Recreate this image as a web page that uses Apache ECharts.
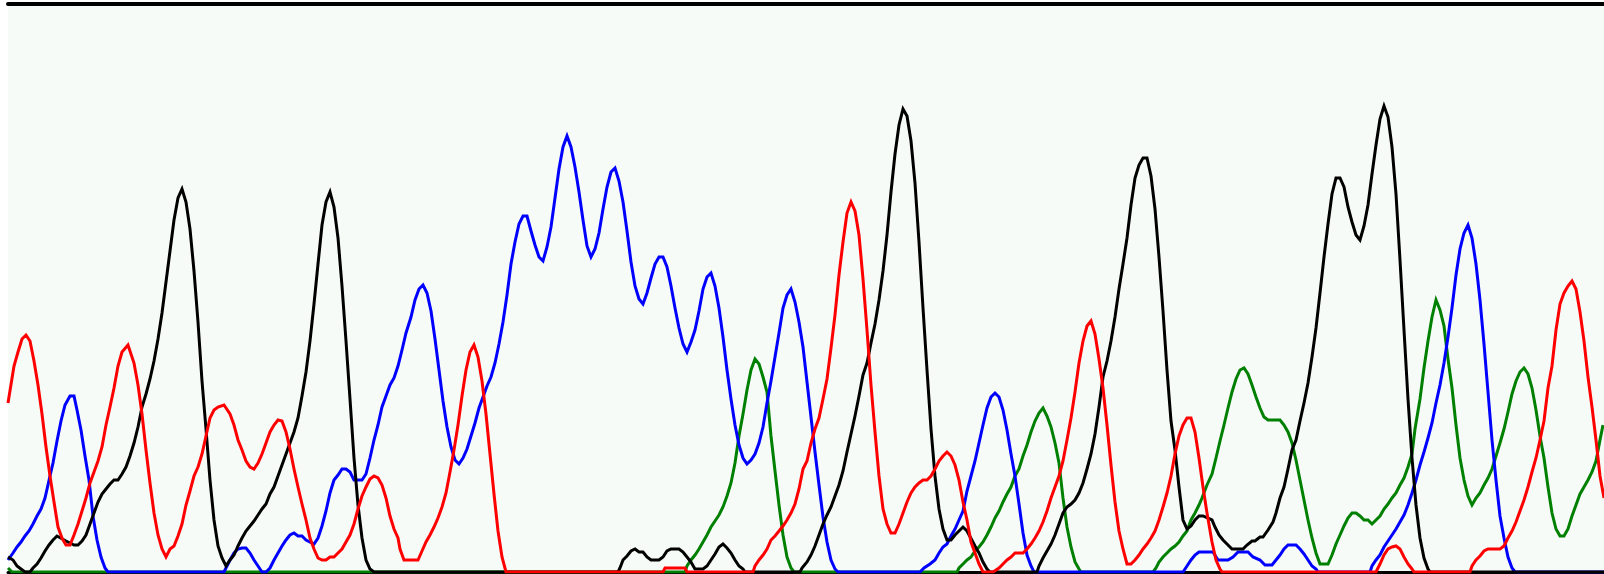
<!DOCTYPE html>
<html>
<head>
<meta charset="utf-8">
<style>
html,body{margin:0;padding:0;background:#ffffff;}
#chart{width:1604px;height:574px;}
</style>
<script src="https://cdn.jsdelivr.net/npm/echarts@6/dist/echarts.min.js"></script>
</head>
<body>
<div id="chart"></div>
<script>
// Chromatogram traces: [scan position, signal intensity]
const traceRed = [[0,169],[6,206],[10,220],[14,233],[18,237],[22,231],[26,211],[30,187],[34,158],[38,125],[42,96],[46,70],[50,45],[54,34],[58,27],[62,27],[66,37],[70,48],[74,61],[78,74],[82,89],[86,100],[90,111],[94,125],[98,147],[102,165],[106,184],[110,206],[114,220],[120,227],[126,209],[130,187],[134,158],[138,122],[142,89],[146,59],[150,37],[154,23],[158,15],[162,23],[166,26],[170,36],[174,48],[178,67],[182,81],[186,96],[190,105],[194,118],[198,136],[202,154],[206,162],[210,165],[216,167],[222,158],[226,147],[230,132],[234,122],[238,111],[242,105],[246,103],[250,109],[254,118],[258,129],[262,140],[266,147],[270,152],[274,151],[278,140],[282,123],[286,103],[290,85],[294,68],[298,52],[302,34],[306,23],[310,14],[314,12],[318,12],[322,15],[326,15],[330,19],[334,23],[338,30],[342,37],[346,48],[350,63],[354,76],[358,85],[362,93],[366,96],[370,94],[374,87],[378,74],[382,56],[386,43],[390,34],[392,23],[396,12],[410,12],[414,21],[418,30],[422,37],[426,45],[430,54],[434,65],[438,79],[442,100],[446,122],[450,147],[454,176],[458,202],[462,220],[466,227],[470,215],[474,191],[478,158],[482,118],[486,78],[490,41],[494,15],[498,0],[655,0],[657,4],[677,4],[679,0],[745,0],[747,6],[751,12],[755,17],[759,23],[763,32],[767,36],[771,41],[775,46],[779,52],[783,59],[787,68],[791,83],[795,103],[799,111],[803,129],[807,143],[811,154],[815,173],[819,193],[823,224],[827,257],[831,297],[835,330],[839,359],[843,370],[847,361],[851,337],[855,293],[859,242],[863,187],[867,140],[871,96],[875,63],[879,48],[883,39],[887,39],[891,48],[895,59],[899,70],[903,79],[907,85],[911,89],[915,92],[919,92],[923,96],[927,103],[931,111],[935,116],[939,120],[943,116],[947,107],[951,92],[955,70],[959,52],[963,30],[967,19],[971,8],[975,0],[985,0],[991,4],[995,8],[999,12],[1003,15],[1007,19],[1015,19],[1019,23],[1023,28],[1027,34],[1031,41],[1035,50],[1039,61],[1043,74],[1047,85],[1051,96],[1055,111],[1059,132],[1063,154],[1067,180],[1071,209],[1075,231],[1079,246],[1083,251],[1087,238],[1091,213],[1095,184],[1099,147],[1103,107],[1107,70],[1111,41],[1115,23],[1119,8],[1123,8],[1127,12],[1131,17],[1135,23],[1139,28],[1143,34],[1147,41],[1151,52],[1155,65],[1159,79],[1163,96],[1167,118],[1171,136],[1175,147],[1179,154],[1183,154],[1187,140],[1191,114],[1195,85],[1199,59],[1204,30],[1208,12],[1212,3],[1214,0],[1368,0],[1372,8],[1376,17],[1380,23],[1384,25],[1388,26],[1392,23],[1396,15],[1400,8],[1404,3],[1406,0],[1462,0],[1464,6],[1468,12],[1472,16],[1476,21],[1480,23],[1492,23],[1496,26],[1500,34],[1504,41],[1508,50],[1512,61],[1516,72],[1520,85],[1524,100],[1528,114],[1532,132],[1536,151],[1540,184],[1544,206],[1548,242],[1552,268],[1556,279],[1560,286],[1564,291],[1568,283],[1572,260],[1576,231],[1580,195],[1584,165],[1588,132],[1592,96],[1596,74]];

const traceBlack = [[0,15],[5,12],[9,6],[13,3],[17,0],[22,0],[25,4],[29,8],[33,14],[37,21],[41,27],[45,32],[49,36],[58,31],[66,27],[70,27],[74,31],[78,37],[82,48],[86,59],[90,70],[94,78],[98,83],[102,88],[106,92],[110,92],[114,98],[118,105],[122,116],[126,129],[130,145],[134,165],[138,178],[142,193],[146,211],[150,233],[154,259],[158,290],[162,321],[166,352],[170,374],[174,383],[178,370],[182,343],[186,301],[190,250],[194,191],[198,143],[202,92],[206,52],[210,26],[214,14],[218,6],[222,12],[226,17],[230,26],[234,34],[238,41],[242,46],[246,51],[250,57],[254,63],[258,68],[262,78],[266,85],[270,96],[274,107],[278,118],[282,129],[286,140],[290,154],[294,176],[298,200],[302,231],[306,268],[310,308],[314,347],[318,370],[322,380],[326,365],[330,334],[334,286],[338,231],[342,173],[346,114],[350,67],[354,34],[358,12],[362,3],[366,0],[610,0],[612,4],[615,12],[619,16],[623,21],[627,23],[631,20],[635,20],[639,15],[643,12],[651,12],[655,15],[659,21],[663,23],[671,23],[675,20],[679,15],[683,10],[687,3],[695,3],[699,6],[703,12],[707,18],[711,25],[715,28],[719,24],[723,19],[727,12],[731,6],[735,3],[737,0],[792,0],[794,4],[799,10],[803,17],[807,26],[811,37],[815,48],[819,57],[823,65],[827,76],[831,87],[835,101],[839,120],[843,138],[847,156],[851,176],[855,197],[859,209],[863,229],[867,248],[871,272],[875,301],[879,337],[883,380],[887,418],[891,447],[895,463],[899,456],[903,431],[907,389],[911,330],[915,264],[919,202],[923,143],[927,96],[931,63],[935,43],[939,32],[943,32],[947,37],[951,41],[955,45],[959,41],[967,26],[971,19],[975,10],[979,3],[982,0],[1029,0],[1031,6],[1035,14],[1039,21],[1043,28],[1047,37],[1051,48],[1055,59],[1059,65],[1063,68],[1067,72],[1071,79],[1075,89],[1079,103],[1083,118],[1087,138],[1091,165],[1095,195],[1099,211],[1103,231],[1107,255],[1111,283],[1115,308],[1119,334],[1123,367],[1127,394],[1131,407],[1135,414],[1139,414],[1143,396],[1147,363],[1151,315],[1155,261],[1159,202],[1163,151],[1167,122],[1171,85],[1175,52],[1179,43],[1183,46],[1187,52],[1191,56],[1195,56],[1204,52],[1207,45],[1211,37],[1215,32],[1219,28],[1224,23],[1235,23],[1239,27],[1244,31],[1247,31],[1252,35],[1255,35],[1260,42],[1265,50],[1268,59],[1272,74],[1276,85],[1280,103],[1284,122],[1288,132],[1292,151],[1296,169],[1300,189],[1304,215],[1308,244],[1312,279],[1316,315],[1320,348],[1324,378],[1328,394],[1332,394],[1336,385],[1340,365],[1344,350],[1348,337],[1352,332],[1356,346],[1360,367],[1364,398],[1368,427],[1372,453],[1376,466],[1380,455],[1384,425],[1388,378],[1392,312],[1396,242],[1400,173],[1404,114],[1408,67],[1412,34],[1416,14],[1420,3],[1422,0],[1596,0]];

const traceBlue = [[0,12],[5,19],[9,25],[13,30],[17,36],[21,41],[25,48],[29,56],[33,63],[37,74],[42,96],[45,109],[49,131],[53,151],[57,167],[62,176],[66,176],[69,162],[73,142],[77,116],[81,92],[85,56],[89,32],[93,15],[97,4],[100,0],[216,0],[218,4],[222,12],[226,19],[230,23],[234,24],[238,24],[242,19],[246,12],[250,6],[254,0],[258,0],[262,4],[266,12],[270,19],[274,26],[278,32],[282,37],[286,39],[290,36],[294,36],[298,32],[306,28],[310,34],[314,46],[318,61],[322,79],[326,92],[330,97],[334,103],[338,103],[342,100],[346,92],[354,92],[358,98],[362,114],[366,132],[370,147],[374,165],[378,176],[382,187],[386,194],[390,206],[394,222],[398,239],[403,255],[407,272],[411,283],[415,287],[419,279],[423,261],[427,233],[431,202],[435,171],[439,145],[443,125],[447,112],[451,108],[455,114],[459,123],[463,136],[467,149],[471,164],[475,175],[479,186],[483,195],[487,209],[491,228],[495,250],[499,277],[503,308],[507,330],[511,348],[515,356],[519,356],[523,341],[527,327],[531,315],[535,311],[539,325],[543,345],[547,374],[551,403],[555,425],[559,436],[563,425],[567,405],[571,380],[575,352],[579,326],[583,315],[587,323],[591,339],[595,363],[599,385],[603,400],[607,404],[611,391],[615,370],[619,341],[623,310],[627,286],[631,273],[635,268],[639,279],[643,294],[647,308],[651,315],[655,315],[659,305],[663,286],[667,264],[671,244],[675,228],[679,220],[683,230],[687,242],[691,261],[695,283],[699,295],[703,299],[707,286],[711,264],[715,235],[719,202],[723,173],[727,147],[731,127],[735,114],[739,108],[743,112],[747,118],[751,129],[755,145],[759,169],[763,191],[767,215],[771,239],[775,264],[779,277],[783,283],[787,270],[791,250],[795,225],[799,190],[803,155],[807,120],[811,87],[815,55],[819,30],[823,12],[827,3],[830,0],[912,0],[916,4],[922,8],[927,12],[931,19],[935,25],[939,28],[943,36],[947,43],[951,52],[955,61],[959,81],[963,96],[967,111],[971,129],[975,147],[979,164],[983,175],[987,179],[991,175],[995,162],[999,142],[1003,118],[1007,96],[1011,68],[1015,39],[1019,17],[1023,6],[1026,0],[1175,0],[1179,6],[1183,12],[1187,17],[1191,20],[1205,20],[1210,12],[1220,12],[1225,15],[1230,20],[1240,20],[1245,15],[1252,12],[1257,7],[1264,7],[1268,12],[1272,17],[1276,23],[1280,27],[1288,27],[1292,23],[1296,18],[1300,12],[1304,6],[1308,3],[1310,0],[1362,0],[1364,6],[1368,12],[1372,17],[1376,25],[1380,31],[1384,37],[1388,43],[1392,50],[1396,57],[1400,67],[1404,79],[1408,92],[1412,107],[1416,120],[1420,134],[1424,149],[1428,169],[1432,187],[1436,209],[1440,235],[1444,264],[1448,297],[1452,323],[1456,339],[1460,347],[1464,334],[1468,308],[1472,272],[1476,228],[1480,180],[1484,132],[1488,92],[1492,56],[1496,34],[1500,15],[1504,4],[1507,0],[1596,0]];

const traceGreen = [[0,4],[4,0],[677,0],[679,6],[683,12],[687,17],[691,23],[695,30],[699,37],[703,45],[707,51],[711,57],[715,65],[719,76],[723,89],[727,109],[731,136],[735,158],[739,182],[743,202],[747,213],[751,208],[755,195],[759,180],[763,136],[767,101],[771,67],[775,37],[779,15],[783,4],[786,0],[949,0],[951,4],[955,8],[959,12],[963,15],[967,21],[971,25],[975,30],[979,37],[983,45],[987,54],[991,61],[995,70],[999,78],[1003,85],[1007,96],[1011,103],[1015,116],[1019,127],[1023,140],[1027,151],[1031,159],[1035,164],[1039,156],[1043,145],[1047,129],[1051,109],[1055,74],[1059,45],[1063,25],[1067,10],[1071,3],[1073,0],[1145,0],[1148,4],[1151,10],[1155,15],[1159,19],[1163,23],[1167,26],[1171,30],[1175,36],[1179,41],[1183,52],[1187,59],[1191,67],[1194,74],[1199,87],[1204,98],[1208,114],[1212,131],[1216,147],[1220,164],[1224,180],[1228,193],[1232,202],[1236,204],[1240,198],[1244,187],[1248,175],[1252,164],[1256,155],[1260,152],[1272,152],[1276,147],[1280,140],[1284,129],[1288,112],[1292,92],[1296,72],[1300,52],[1304,34],[1308,19],[1312,8],[1320,8],[1324,17],[1328,28],[1332,37],[1336,46],[1340,54],[1344,59],[1348,59],[1352,56],[1356,52],[1360,52],[1364,48],[1368,52],[1372,56],[1376,63],[1380,68],[1384,74],[1388,79],[1392,87],[1396,94],[1400,105],[1404,118],[1407,143],[1412,173],[1416,204],[1420,231],[1424,255],[1428,272],[1432,262],[1436,246],[1440,213],[1444,184],[1448,147],[1452,114],[1456,92],[1460,76],[1464,67],[1468,74],[1472,79],[1476,87],[1480,94],[1484,103],[1488,116],[1492,129],[1496,143],[1500,160],[1504,178],[1508,191],[1512,200],[1516,204],[1520,198],[1524,184],[1528,162],[1532,136],[1536,114],[1540,85],[1544,59],[1548,43],[1552,36],[1556,36],[1560,43],[1564,56],[1568,67],[1572,78],[1576,85],[1580,92],[1584,100],[1588,111],[1592,132],[1595,147]];

const scanRange = [0, 1596];
const signalRange = [0, 568];

const chart = echarts.init(document.getElementById('chart'), null, {renderer: 'canvas'});

function trace(name, data, color) {
  return {
    name: name, type: 'line', data: data, showSymbol: false, symbol: 'none',
    smooth: false, lineStyle: {color: color, width: 3, join: 'miter'}, itemStyle: {color: color},
    animation: false, silent: true
  };
}

chart.setOption({
  animation: false,
  backgroundColor: '#ffffff',
  grid: {left: 8, right: 0, top: 4, bottom: 2, show: true, backgroundColor: '#f6fbf7', borderWidth: 0},
  xAxis: [
    {type: 'value', min: scanRange[0], max: scanRange[1], position: 'bottom',
     axisLine: {show: true, onZero: false, lineStyle: {color: '#000', width: 3}},
     axisTick: {show: false}, axisLabel: {show: false}, splitLine: {show: false}},
    {type: 'value', min: scanRange[0], max: scanRange[1], position: 'top',
     axisLine: {show: true, onZero: false, lineStyle: {color: '#000', width: 4}},
     axisTick: {show: false}, axisLabel: {show: false}, splitLine: {show: false}}
  ],
  yAxis: {type: 'value', min: signalRange[0], max: signalRange[1], show: false, splitLine: {show: false}},
  series: [
    trace('G', traceGreen, '#008000'),
    trace('C', traceBlue, '#0000ff'),
    trace('T', traceBlack, '#000000'),
    trace('A', traceRed, '#ff0000')
  ]
});
</script>
</body>
</html>
